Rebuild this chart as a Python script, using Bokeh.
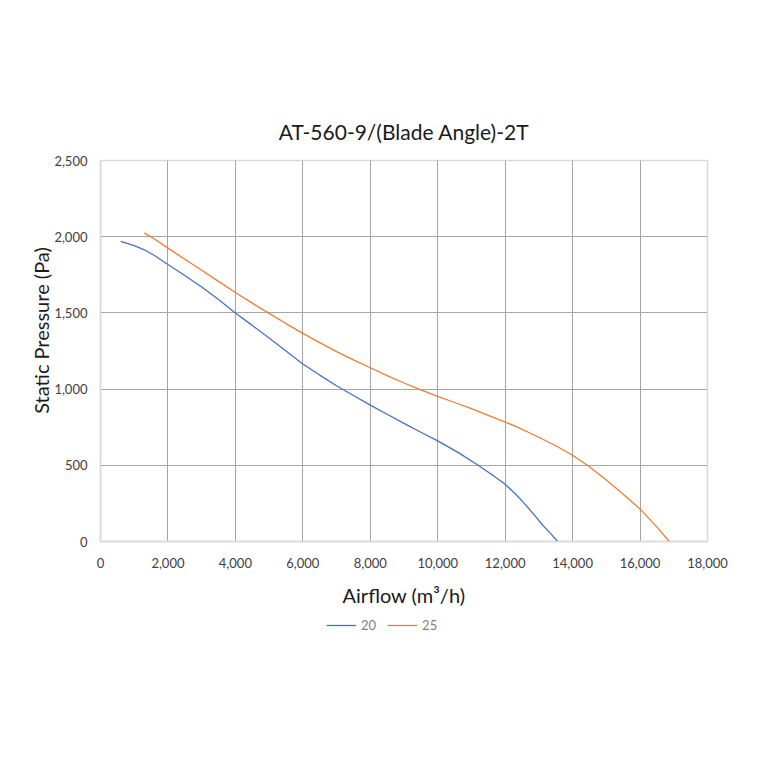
from bokeh.plotting import figure
from bokeh.embed import file_html
from bokeh.resources import INLINE
from bokeh.layouts import column
from bokeh.models import Range1d, NumeralTickFormatter, FixedTicker, Legend, LegendItem

FONT = "Lato"

x20 = [600, 1000, 1300, 1600, 2000, 2500, 3000, 3500, 4000, 4500, 5000, 5500, 6000, 6500, 7000, 7500, 8000,
       8500, 9000, 9500, 10000, 10600, 11200, 11600, 12000, 12300, 12600, 12900, 13100, 13350, 13560]
y20 = [1970, 1942, 1914, 1877, 1818, 1745, 1670, 1588, 1500, 1418, 1335, 1250, 1165, 1092, 1022, 958, 895,
       835, 775, 717, 660, 585, 500, 440, 375, 313, 242, 165, 110, 52, 0]

x25 = [1300, 1600, 2000, 2500, 3000, 3500, 4000, 4500, 5000, 5500, 6000, 6500, 7000, 7500, 8000, 8500, 9000,
       9500, 10000, 10500, 11000, 11700, 12300, 13000, 13500, 14000, 14500, 15000, 15500, 16000, 16500, 16870]
y25 = [2025, 1985, 1925, 1852, 1780, 1707, 1634, 1564, 1497, 1430, 1366, 1305, 1246, 1192, 1140, 1088, 1040,
       995, 952, 912, 872, 810, 757, 684, 628, 566, 490, 403, 310, 214, 94, 0]

series_names = ["20", "25"]
colors = ["#4472C4", "#ED7D31"]
x_ticks = list(range(0, 18001, 2000))
y_ticks = list(range(0, 2501, 500))

p = figure(frame_width=607, frame_height=381, output_backend="svg", toolbar_location=None,
           x_range=Range1d(0, 18000), y_range=Range1d(0, 2500),
           min_border_left=100, min_border_right=44, min_border_top=160, min_border_bottom=0)

p.title.text = "AT-560-9/(Blade Angle)-2T"
p.title.align = "center"
p.title.text_font = FONT
p.title.text_font_size = "21px"
p.title.text_font_style = "normal"
p.title.text_color = "#1a1a1a"
p.title.standoff = 34

p.outline_line_color = "#d9d9d9"
p.outline_line_width = 1.5

p.line(x20, y20, line_color=colors[0], line_width=1.3)
p.line(x25, y25, line_color=colors[1], line_width=1.3)

for ax in (p.xaxis[0], p.yaxis[0]):
    ax.major_tick_line_color = None
    ax.minor_tick_line_color = None
    ax.axis_line_color = "#d9d9d9"
    ax.axis_line_width = 1.5
    ax.major_label_text_font = FONT
    ax.major_label_text_font_size = "13px"
    ax.major_label_text_color = "#404040"
    ax.axis_label_text_font = FONT
    ax.axis_label_text_font_size = "20px"
    ax.axis_label_text_font_style = "normal"
    ax.axis_label_text_color = "#1a1a1a"
    ax.formatter = NumeralTickFormatter(format="0,0")

p.xaxis[0].ticker = FixedTicker(ticks=x_ticks)
p.yaxis[0].ticker = FixedTicker(ticks=y_ticks)
p.xaxis[0].axis_label = "Airflow (m³/h)"
p.yaxis[0].axis_label = "\u00a0" * 8 + "Static Pressure (Pa)"
p.xaxis[0].major_label_standoff = 10
p.yaxis[0].major_label_standoff = 7
p.xaxis[0].axis_label_standoff = 12
p.yaxis[0].axis_label_standoff = -2

p.xgrid.ticker = FixedTicker(ticks=x_ticks)
p.ygrid.ticker = FixedTicker(ticks=y_ticks)
p.xgrid.grid_line_color = "#a6a6a6"
p.ygrid.grid_line_color = "#a6a6a6"

# legend strip below the chart (single-point lines draw nothing; they only feed the legend glyphs)
lg = figure(width=751, height=40, output_backend="svg", toolbar_location=None,
            x_range=Range1d(0, 1), y_range=Range1d(0, 1),
            min_border_left=0, min_border_right=0, min_border_top=0, min_border_bottom=0)
lg.axis.visible = False
lg.grid.visible = False
lg.outline_line_color = None
l1 = lg.line(x20[:1], y20[:1], line_color=colors[0], line_width=1.3)
l2 = lg.line(x25[:1], y25[:1], line_color=colors[1], line_width=1.3)
legend = Legend(items=[LegendItem(label=series_names[0], renderers=[l1]),
                       LegendItem(label=series_names[1], renderers=[l2])],
                orientation="horizontal", location=(226, 16),
                glyph_width=30, glyph_height=14, label_standoff=5,
                label_width=13, spacing=11,
                padding=0, margin=0, border_line_color=None, background_fill_alpha=0,
                label_text_font=FONT, label_text_font_size="13px", label_text_color="#808080")
lg.add_layout(legend, "center")

open("out.html", "w").write(file_html(column(p, lg, spacing=0), INLINE))
